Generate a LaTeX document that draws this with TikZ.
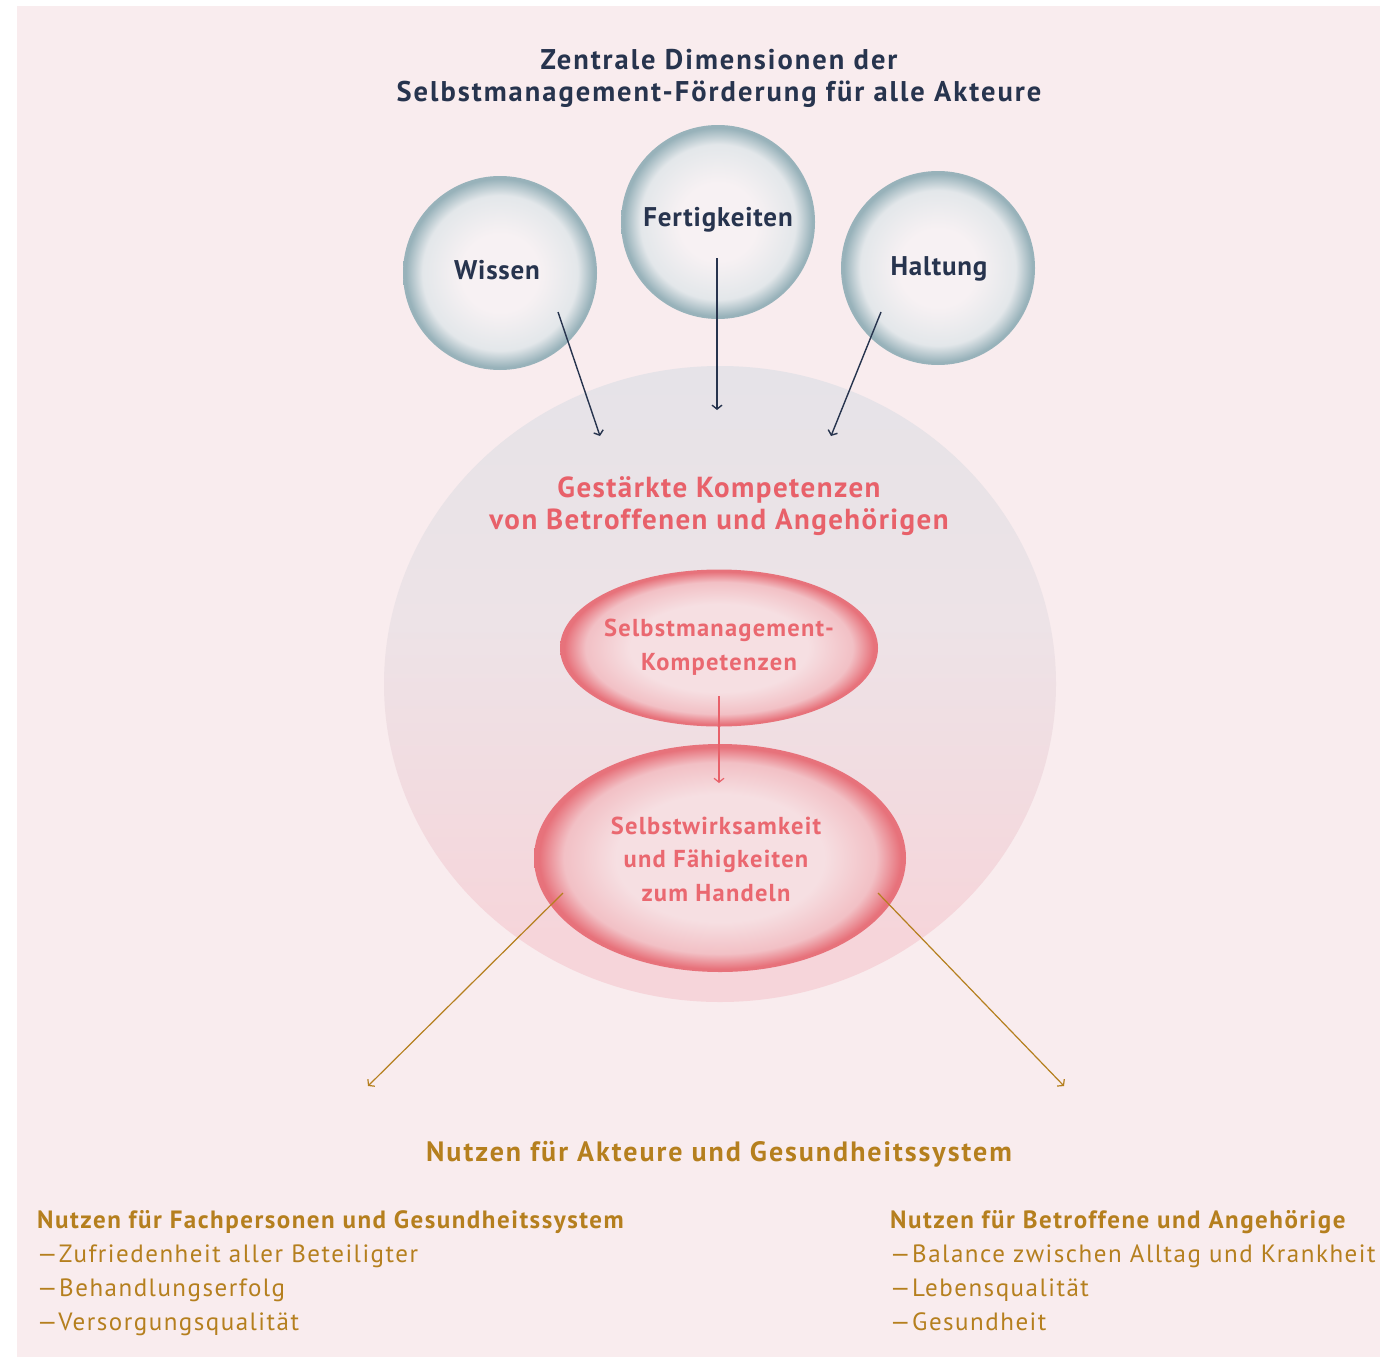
\documentclass[tikz,border=0pt]{standalone}
\usepackage{fontspec}
\setmainfont{PT Sans}[LetterSpace=6]
\newfontfamily\titlefont{PT Sans}[LetterSpace=7]
\newfontfamily\medfont{PT Sans}[LetterSpace=5]
\newfontfamily\bubfont{PT Sans}[LetterSpace=3]
\newfontfamily\gkfont{PT Sans}[LetterSpace=5]
\newfontfamily\akfont{PT Sans}[LetterSpace=7]
\usetikzlibrary{arrows.meta,shapes.geometric}
\definecolor{bg}{HTML}{F9ECEE}
\definecolor{navy}{HTML}{27344E}
\definecolor{coral}{HTML}{E8616A}
\definecolor{coralsoft}{HTML}{EA6870}
\definecolor{gold}{HTML}{B57F1E}
\definecolor{bubin}{HTML}{F7F1F3}
\definecolor{bubmid}{HTML}{E3E7EA}
\definecolor{bubout}{HTML}{98B2BA}
\definecolor{lensin}{HTML}{F6DFE2}
\definecolor{lensmid}{HTML}{F2C0C5}
\definecolor{lensout}{HTML}{E7727B}
\definecolor{globetop}{HTML}{E2E3E8}
\definecolor{globemid}{HTML}{EDE3E7}
\definecolor{globebot}{HTML}{F6D5DA}
\pgfdeclareradialshading{bubble}{\pgfpoint{0bp}{0bp}}{color(0bp)=(bubin); color(10bp)=(bubin); color(20bp)=(bubmid); color(24.3bp)=(bubout); color(25bp)=(bubout); color(50bp)=(bubout)}
\pgfdeclareradialshading{lens}{\pgfpoint{0bp}{0bp}}{color(0bp)=(lensin); color(14bp)=(lensin); color(21bp)=(lensmid); color(24.3bp)=(lensout); color(25bp)=(lensout); color(50bp)=(lensout)}
\pgfdeclareverticalshading{globe}{100bp}{color(0bp)=(globebot); color(30bp)=(globebot); color(55bp)=(globemid); color(85bp)=(globetop); color(100bp)=(globetop)}
\tikzset{
  bubblenode/.style={circle, minimum size=194pt, inner sep=0pt, shading=bubble},
  lensnode/.style={ellipse, inner sep=0pt, shading=lens},
  globenode/.style={ellipse, inner sep=0pt, shading=globe},
  navytxt/.style={text=navy, inner sep=0pt},
  coraltxt/.style={text=coral, align=center, inner sep=0pt},
  goldtxt/.style={text=gold, inner sep=0pt},
  navyarrow/.style={draw=navy, line width=1.4pt, -{Straight Barb[length=4pt,width=10pt]}},
  coralarrow/.style={draw=coral, line width=1.2pt, -{Straight Barb[length=4pt,width=10pt]}},
  goldarrow/.style={draw=gold, line width=1.2pt, -{Straight Barb[length=4pt,width=10pt]}},
  bublabel/.style={navytxt, anchor=base, font=\bubfont\bfseries\fontsize{27}{32}\selectfont},
  listhead/.style={goldtxt, anchor=base west, font=\bfseries\fontsize{25}{30}\selectfont},
  listitem/.style={goldtxt, anchor=base west, font=\fontsize{25}{30}\selectfont},
}
\begin{document}
\begin{tikzpicture}[x=1pt,y=-1pt]
\useasboundingbox (0,0) rectangle (1380,1357);
\fill[white] (0,0) rectangle (1380,1357);
\fill[bg] (17,6) rectangle (1380,1357);

% title
\node[navytxt, align=center, font=\titlefont\bfseries\fontsize{28.5}{32}\selectfont] (title) at (719,78) {Zentrale Dimensionen der\\Selbstmanagement-Förderung für alle Akteure};

% big globe
\node[globenode, minimum width=672pt, minimum height=636pt] (globe) at (720,684) {};

% bubbles
\node[bubblenode] (wissen) at (500,273) {};
\node[bubblenode] (fertig) at (718,222) {};
\node[bubblenode] (haltung) at (938,268) {};
\node[bublabel] (wissenlbl) at (497,279) {Wissen};
\node[bublabel] (fertiglbl) at (718,226) {Fertigkeiten};
\node[bublabel] (haltunglbl) at (939,275) {Haltung};

% globe text
\node[coraltxt, font=\gkfont\bfseries\fontsize{29}{32}\selectfont] (gk) at (719,506) {Gestärkte Kompetenzen\\von Betroffenen und Angehörigen};

% lenses
\node[lensnode, minimum width=318pt, minimum height=157pt] (smk) at (719,648) {};
\node[lensnode, minimum width=372pt, minimum height=228pt] (swk) at (720,858) {};
\node[coraltxt, text=coralsoft, font=\medfont\bfseries\fontsize{24.5}{34}\selectfont] (smklbl) at (719,647) {Selbstmanagement-\\Kompetenzen};
\node[coraltxt, text=coralsoft, font=\medfont\bfseries\fontsize{24.5}{33.5}\selectfont] (swklbl) at (716,859) {Selbstwirksamkeit\\und Fähigkeiten\\zum Handeln};

% arrow end points
\coordinate (wA) at (558,312);
\coordinate (wB) at (600,436);
\coordinate (fA) at (717,258);
\coordinate (fB) at (717,410);
\coordinate (hA) at (881,312);
\coordinate (hB) at (831,436);
\coordinate (sA) at (719,696);
\coordinate (sB) at (719,783);
\coordinate (lA) at (563,893);
\coordinate (lB) at (368,1086);
\coordinate (rA) at (878,893);
\coordinate (rB) at (1064,1086);
\draw[navyarrow] (wA) -- (wB);
\draw[navyarrow] (fA) -- (fB);
\draw[navyarrow] (hA) -- (hB);
\draw[coralarrow] (sA) -- (sB);
\draw[goldarrow] (lA) -- (lB);
\draw[goldarrow] (rA) -- (rB);

% bottom
\node[goldtxt, font=\akfont\bfseries\fontsize{28}{32}\selectfont, anchor=base] (nutzen) at (719,1161) {Nutzen für Akteure und Gesundheitssystem};

\node[listhead] (l0) at (37,1228) {Nutzen für Fachpersonen und Gesundheitssystem};
\node[listitem] (l1) at (37,1262) {—Zufriedenheit aller Beteiligter};
\node[listitem] (l2) at (37,1296) {—Behandlungserfolg};
\node[listitem] (l3) at (37,1330) {—Versorgungsqualität};
\node[listhead] (r0) at (890,1228) {Nutzen für Betroffene und Angehörige};
\node[listitem] (r1) at (890,1262) {—Balance zwischen Alltag und Krankheit};
\node[listitem] (r2) at (890,1296) {—Lebensqualität};
\node[listitem] (r3) at (890,1330) {—Gesundheit};
\end{tikzpicture}
\end{document}
